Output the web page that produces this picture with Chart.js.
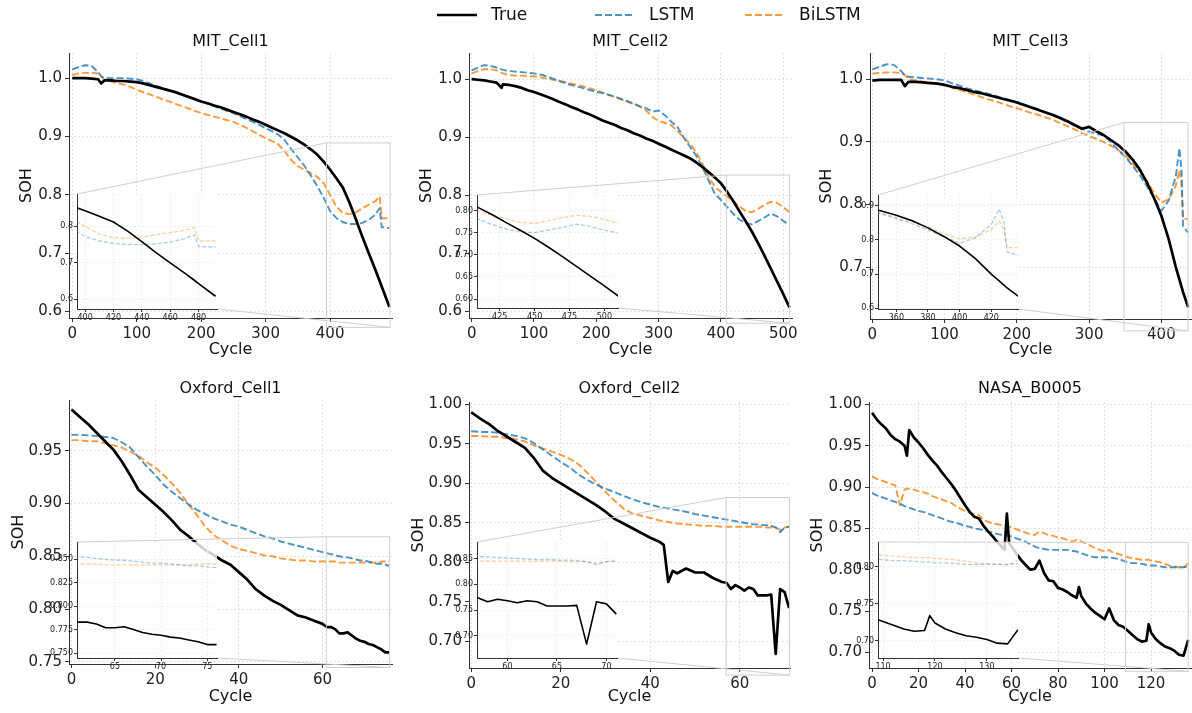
<!DOCTYPE html>
<html>
<head>
<meta charset="utf-8">
<script src="https://cdn.jsdelivr.net/npm/chart.js@4.4.1/dist/chart.umd.min.js"></script>
<style>
  html, body { margin: 0; padding: 0; background: #fff; }
  #fig { position: relative; width: 1192px; height: 713px; overflow: hidden; }
  #fig canvas { position: absolute; left: 0; top: 0; }
</style>
</head>
<body>
<div id="fig"></div>
<script>
// ---- data ----
const seriesNames = ["True", "LSTM", "BiLSTM"];
const panelTitles = ["MIT_Cell1", "MIT_Cell2", "MIT_Cell3", "Oxford_Cell1", "Oxford_Cell2", "NASA_B0005"];

const mit1Cycles = [0, 10, 20, 30, 40, 45, 50, 60, 70, 80, 90, 100, 110, 120, 130, 140, 150, 160, 170, 180, 190,
  200, 210, 220, 230, 240, 250, 260, 270, 280, 290, 300, 310, 320, 330, 340, 350, 360, 370, 380, 390,
  400, 410, 420, 430, 440, 450, 460, 470, 477, 480, 492];
const mit1True = [1.000, 1.000, 1.000, 0.999, 0.998, 0.991,
  0.996, 0.996, 0.995, 0.995, 0.994, 0.993, 0.991, 0.988, 0.985, 0.982, 0.979, 0.976, 0.972, 0.968, 0.964,
  0.960, 0.957, 0.953, 0.950, 0.946, 0.942, 0.938, 0.934, 0.929, 0.925, 0.920, 0.915, 0.910, 0.905, 0.899,
  0.893, 0.886, 0.878, 0.869, 0.857, 0.843, 0.828, 0.812, 0.787, 0.758, 0.728, 0.700, 0.672,
  0.652, 0.643, 0.608];
const mit1Lstm = [1.015, 1.019, 1.022, 1.021, 1.010, 1.003,
  1.000, 1.000, 1.000, 1.000, 0.999, 0.998, 0.995, 0.991, 0.987, 0.983, 0.979, 0.975, 0.971, 0.967, 0.964,
  0.960, 0.956, 0.952, 0.948, 0.944, 0.940, 0.935, 0.930, 0.925, 0.920, 0.914, 0.909, 0.903, 0.893, 0.878,
  0.864, 0.850, 0.833, 0.815, 0.795, 0.772, 0.760, 0.753, 0.750, 0.750, 0.752, 0.757, 0.766,
  0.777, 0.745, 0.743];
const mit1Bilstm = [1.005, 1.008, 1.009, 1.009, 1.008, 1.003,
  0.997, 0.994, 0.991, 0.989, 0.985, 0.980, 0.976, 0.972, 0.968, 0.964, 0.960, 0.956, 0.952, 0.948, 0.944,
  0.940, 0.937, 0.934, 0.931, 0.928, 0.925, 0.920, 0.915, 0.909, 0.903, 0.897, 0.892, 0.886, 0.874, 0.859,
  0.849, 0.843, 0.837, 0.831, 0.820, 0.800, 0.779, 0.769, 0.767, 0.770, 0.777, 0.783, 0.789,
  0.797, 0.760, 0.760];

const mit2Cycles = [0, 10, 20, 30, 40, 48, 50, 60, 70, 80, 90, 100, 110, 120, 130, 140, 150, 160, 170, 180, 190,
  200, 210, 220, 230, 240, 250, 260, 270, 280, 290, 300, 310, 320, 330, 340, 350, 360, 370, 380, 390,
  400, 410, 420, 430, 440, 450, 460, 470, 480, 490, 500, 510];
const mit2True = [1.000, 0.999, 0.998, 0.996, 0.994, 0.985,
  0.991, 0.990, 0.988, 0.985, 0.981,
  0.978, 0.974, 0.970, 0.966, 0.961, 0.957, 0.952, 0.948, 0.943, 0.939,
  0.934, 0.929, 0.925, 0.921, 0.916, 0.912, 0.907, 0.903, 0.898, 0.894,
  0.889, 0.884, 0.879, 0.874, 0.869, 0.864, 0.857, 0.849, 0.840, 0.831,
  0.821, 0.806, 0.790, 0.772, 0.755, 0.737, 0.717, 0.696, 0.674, 0.652,
  0.630, 0.607];
const mit2Lstm = [1.015, 1.020, 1.024, 1.023, 1.020, 1.017,
  1.016, 1.014, 1.013, 1.012, 1.011,
  1.010, 1.008, 1.005, 1.001, 0.997, 0.993, 0.990, 0.987, 0.984, 0.981,
  0.978, 0.976, 0.973, 0.970, 0.966, 0.962, 0.958, 0.953, 0.950, 0.944,
  0.946, 0.938, 0.927, 0.918, 0.900, 0.884, 0.869, 0.849, 0.826, 0.803,
  0.792, 0.780, 0.768, 0.758, 0.752, 0.750, 0.756, 0.762, 0.769, 0.764,
  0.756, 0.749];
const mit2Bilstm = [1.010, 1.014, 1.017, 1.017, 1.015, 1.011,
  1.010, 1.007, 1.006, 1.006, 1.005,
  1.005, 1.003, 1.001, 0.999, 0.997, 0.995, 0.992, 0.990, 0.987, 0.984,
  0.981, 0.977, 0.973, 0.969, 0.965, 0.961, 0.957, 0.953, 0.946, 0.935,
  0.928, 0.925, 0.921, 0.911, 0.900, 0.889, 0.875, 0.855, 0.832, 0.815,
  0.806, 0.798, 0.789, 0.781, 0.773, 0.771, 0.777, 0.784, 0.789, 0.787,
  0.780, 0.771];

const mit3Cycles = [0, 10, 20, 30, 40, 45, 50, 60, 70, 80, 90, 100, 110, 120, 130, 140, 150, 160, 170, 180, 190,
  200, 210, 220, 230, 240, 250, 260, 270, 280, 290, 300, 310, 320, 330, 340, 350, 360, 370, 380, 390,
  400, 410, 420, 425, 428, 430, 437];
const mit3True = [0.998, 0.999, 0.999, 0.999, 0.999, 0.989,
  0.996, 0.996, 0.995, 0.994, 0.993,
  0.991, 0.988, 0.986, 0.983, 0.980, 0.978, 0.975, 0.972, 0.969, 0.966,
  0.963, 0.959, 0.955, 0.951, 0.947, 0.943, 0.938, 0.933, 0.927, 0.921,
  0.924, 0.917, 0.911, 0.903, 0.895, 0.885, 0.872, 0.856, 0.835, 0.810,
  0.782, 0.745, 0.700, 0.680, 0.668, 0.660, 0.636];
const mit3Lstm = [1.016, 1.020, 1.024, 1.023, 1.013, 1.006,
  1.004, 1.003, 1.002, 1.001, 1.000,
  0.998, 0.994, 0.990, 0.986, 0.983, 0.980, 0.977, 0.974, 0.970, 0.967,
  0.964, 0.960, 0.956, 0.952, 0.947, 0.943, 0.937, 0.932, 0.926, 0.921,
  0.916, 0.913, 0.910, 0.900, 0.887, 0.876, 0.862, 0.847, 0.829, 0.810,
  0.790, 0.806, 0.845, 0.890, 0.852, 0.765, 0.755];
const mit3Bilstm = [1.009, 1.010, 1.011, 1.011, 1.010, 1.007,
  1.000, 0.998, 0.996, 0.995, 0.993,
  0.991, 0.987, 0.983, 0.980, 0.976, 0.972, 0.968, 0.965, 0.961, 0.957,
  0.954, 0.950, 0.946, 0.943, 0.939, 0.935, 0.930, 0.925, 0.920, 0.914,
  0.909, 0.905, 0.900, 0.894, 0.887, 0.879, 0.865, 0.853, 0.838, 0.818,
  0.803, 0.808, 0.830, 0.855, 0.830, 0.777, 0.777];

const ox1Cycles = [0, 2, 4, 6, 8, 10, 12, 14, 16, 18, 20, 22, 24, 26, 28, 30, 32, 34, 36, 38, 40,
  42, 44, 46, 48, 50, 52, 54, 56, 58, 60,
  61, 62, 63, 64, 65, 66, 67, 68, 69, 70, 71, 72, 73, 74, 75, 76];
const ox1True = [0.989, 0.982, 0.975, 0.967, 0.959, 0.951, 0.940, 0.927, 0.913, 0.906, 0.899,
  0.892, 0.884, 0.875, 0.869, 0.862, 0.856, 0.851, 0.846, 0.842, 0.835,
  0.828, 0.819, 0.813, 0.808, 0.804, 0.799, 0.794, 0.792, 0.789, 0.786,
  0.783, 0.783, 0.781, 0.777, 0.777, 0.778, 0.775, 0.772, 0.770, 0.769, 0.767, 0.766, 0.764, 0.762, 0.759, 0.759];
const ox1Lstm = [0.965, 0.965, 0.9645, 0.964, 0.963, 0.962, 0.958, 0.953, 0.944, 0.935, 0.927,
  0.918, 0.911, 0.905, 0.899, 0.894, 0.890, 0.886, 0.883, 0.880, 0.878,
  0.875, 0.872, 0.869, 0.867, 0.864, 0.862, 0.860, 0.858, 0.856, 0.854,
  0.853, 0.852, 0.851, 0.850, 0.849, 0.849, 0.848, 0.847, 0.846, 0.846, 0.845, 0.844, 0.843, 0.843, 0.842, 0.841];
const ox1Bilstm = [0.960, 0.960, 0.959, 0.959, 0.957, 0.955, 0.953, 0.949, 0.945, 0.939, 0.934,
  0.927, 0.919, 0.910, 0.899, 0.889, 0.878, 0.870, 0.865, 0.860, 0.857,
  0.855, 0.853, 0.851, 0.850, 0.848, 0.847, 0.846, 0.846, 0.845, 0.845,
  0.845, 0.845, 0.845, 0.844, 0.844, 0.844, 0.844, 0.844, 0.844, 0.844, 0.844, 0.844, 0.844, 0.845, 0.845, 0.845];

const ox2Cycles = [0, 2, 4, 6, 8, 10, 12, 14, 16, 18, 20, 22, 24, 26, 28, 30, 32, 34, 36, 38, 40, 42,
  43, 44, 45, 46, 48, 50, 52, 54, 56,
  57, 58, 59, 60, 61, 62, 63, 64, 65, 66, 67, 68, 69, 70, 71];
const ox2True = [0.990, 0.982, 0.975, 0.966, 0.959, 0.952, 0.945, 0.932, 0.916, 0.907, 0.900,
  0.893, 0.886, 0.879, 0.872, 0.864, 0.855, 0.849, 0.843, 0.837, 0.831, 0.826,
  0.822, 0.775, 0.789, 0.786, 0.792, 0.787, 0.787, 0.780, 0.775,
  0.774, 0.766, 0.771, 0.768, 0.764, 0.768, 0.766, 0.758, 0.758, 0.758, 0.759, 0.684, 0.766, 0.762, 0.742];
const ox2Lstm = [0.966, 0.965, 0.965, 0.964, 0.962, 0.960, 0.957, 0.951, 0.943, 0.935, 0.927,
  0.920, 0.911, 0.904, 0.898, 0.893, 0.889, 0.884, 0.880, 0.876, 0.873, 0.870,
  0.869, 0.868, 0.867, 0.866, 0.864, 0.861, 0.859, 0.857, 0.855,
  0.854, 0.853, 0.852, 0.851, 0.850, 0.849, 0.848, 0.848, 0.847, 0.847, 0.846, 0.844, 0.838, 0.844, 0.845];
const ox2Bilstm = [0.960, 0.960, 0.959, 0.959, 0.957, 0.956, 0.953, 0.948, 0.944, 0.940, 0.936,
  0.931, 0.924, 0.913, 0.901, 0.889, 0.878, 0.868, 0.862, 0.859, 0.856, 0.853,
  0.852, 0.851, 0.850, 0.849, 0.848, 0.847, 0.846, 0.846, 0.845,
  0.845, 0.845, 0.845, 0.845, 0.845, 0.845, 0.845, 0.845, 0.845, 0.844, 0.844, 0.844, 0.841, 0.844, 0.845];

const nasaCycles = [0, 2, 4, 6, 8, 10, 12, 14, 15,
  16, 18, 20, 22, 24, 26, 28, 30, 32, 34, 36, 38, 40, 42, 44, 46, 48, 50, 52, 54, 56,
  57, 58, 59,
  60, 62, 64, 66, 68, 70, 72, 74, 76, 78, 80, 82, 84, 86, 88, 89,
  90, 92, 94, 96, 98, 100, 102, 104, 106, 108, 110, 112, 114, 116, 118, 119,
  120, 122, 124, 126, 128, 130, 132, 134, 136];
const nasaTrue = [0.990, 0.982, 0.976, 0.971, 0.963, 0.958, 0.955, 0.950, 0.938,
  0.969, 0.960, 0.954, 0.947, 0.939, 0.932, 0.926, 0.918, 0.911, 0.904, 0.896, 0.887, 0.878, 0.870, 0.864, 0.862, 0.853, 0.846, 0.840, 0.833, 0.827,
  0.824, 0.868, 0.832,
  0.828, 0.820, 0.812, 0.806, 0.800, 0.801, 0.811, 0.796, 0.787, 0.786, 0.778, 0.776, 0.773, 0.769, 0.766, 0.779,
  0.768, 0.759, 0.753, 0.748, 0.744, 0.740, 0.753, 0.739, 0.733, 0.731, 0.726, 0.721, 0.716, 0.713, 0.714, 0.734,
  0.724, 0.716, 0.711, 0.707, 0.705, 0.702, 0.697, 0.696, 0.715];
const nasaLstm = [0.893, 0.890, 0.888, 0.886, 0.884, 0.882, 0.880, 0.877, 0.876,
  0.875, 0.873, 0.871, 0.870, 0.868, 0.866, 0.864, 0.862, 0.860, 0.858, 0.857, 0.855, 0.853, 0.852, 0.850, 0.849, 0.848, 0.846, 0.845, 0.843, 0.842,
  0.842, 0.841, 0.841,
  0.840, 0.838, 0.836, 0.834, 0.831, 0.828, 0.826, 0.825, 0.824, 0.824, 0.824, 0.824, 0.824, 0.823, 0.822, 0.821,
  0.820, 0.818, 0.816, 0.815, 0.815, 0.815, 0.815, 0.814, 0.813, 0.811, 0.809, 0.808, 0.808, 0.807, 0.806, 0.806,
  0.805, 0.805, 0.804, 0.803, 0.803, 0.803, 0.803, 0.803, 0.804];
const nasaBilstm = [0.913, 0.910, 0.908, 0.906, 0.904, 0.902, 0.878, 0.897, 0.898,
  0.898, 0.897, 0.895, 0.894, 0.892, 0.889, 0.887, 0.885, 0.883, 0.881, 0.877, 0.874, 0.871, 0.869, 0.867, 0.866, 0.860, 0.858, 0.856, 0.855, 0.854,
  0.854, 0.853, 0.852,
  0.851, 0.849, 0.847, 0.845, 0.843, 0.842, 0.846, 0.844, 0.842, 0.841, 0.839, 0.838, 0.836, 0.834, 0.836, 0.836,
  0.834, 0.832, 0.829, 0.826, 0.824, 0.822, 0.824, 0.820, 0.819, 0.817, 0.815, 0.814, 0.813, 0.812, 0.812, 0.812,
  0.811, 0.810, 0.809, 0.807, 0.805, 0.804, 0.803, 0.802, 0.808];

// tick labels
const mitYTicks = [0.6, 0.7, 0.8, 0.9, 1.0];
const mit1XTicks = [0, 100, 200, 300, 400];
const mit2XTicks = [0, 100, 200, 300, 400, 500];
const mit3XTicks = [0, 100, 200, 300, 400];
const ox1YTicks = [0.75, 0.80, 0.85, 0.90, 0.95];
const ox2YTicks = [0.70, 0.75, 0.80, 0.85, 0.90, 0.95, 1.00];
const nasaYTicks = [0.70, 0.75, 0.80, 0.85, 0.90, 0.95, 1.00];
const oxXTicks = [0, 20, 40, 60];
const nasaXTicks = [0, 20, 40, 60, 80, 100, 120];

const mit1InsetXTicks = [400, 420, 440, 460, 480];
const mit1InsetYTicks = [0.6, 0.7, 0.8];
const mit2InsetXTicks = [425, 450, 475, 500];
const mit2InsetYTicks = [0.60, 0.65, 0.70, 0.75, 0.80];
const mit3InsetXTicks = [360, 380, 400, 420];
const mit3InsetYTicks = [0.6, 0.7, 0.8, 0.9];
const ox1InsetXTicks = [65, 70, 75];
const ox1InsetYTicks = [0.750, 0.775, 0.800, 0.825, 0.850];
const ox2InsetXTicks = [60, 65, 70];
const ox2InsetYTicks = [0.70, 0.75, 0.80, 0.85];
const nasaInsetXTicks = [110, 120, 130];
const nasaInsetYTicks = [0.70, 0.75, 0.80];

// ---- layout / styles ----
const W = 1192, H = 713;
const FONT = "'DejaVu Sans', sans-serif";
const BLUE = "rgba(31,119,180,0.8)";
const ORANGE = "rgba(255,127,14,0.8)";
const BLUE_FADED = "rgba(31,119,180,0.38)";
const ORANGE_FADED = "rgba(255,127,14,0.38)";
const LABEL_OFF = 10; // half of 16px title line + 2px padding

const panels = [
  { title: panelTitles[0], cycles: mit1Cycles, truth: mit1True, lstm: mit1Lstm, bilstm: mit1Bilstm,
    area: { l: 69, t: 53, r: 392, b: 318 }, titleY: 46, yLabelX: 27, xLabelY: 350,
    x: [-5, 496], y: [0.589, 1.043], xTicks: mit1XTicks, yTicks: mitYTicks, yDec: 1,
    inset: { area: { l: 77, t: 194, r: 217, b: 309 }, x: [394.3, 493], y: [0.573, 0.889],
      xTicks: mit1InsetXTicks, yTicks: mit1InsetYTicks, yDec: 1 } },
  { title: panelTitles[1], cycles: mit2Cycles, truth: mit2True, lstm: mit2Lstm, bilstm: mit2Bilstm,
    area: { l: 469, t: 53, r: 792, b: 318 }, titleY: 46, yLabelX: 427, xLabelY: 350,
    x: [-4.3, 514], y: [0.589, 1.045], xTicks: mit2XTicks, yTicks: mitYTicks, yDec: 1,
    inset: { area: { l: 477, t: 195, r: 618, b: 308 }, x: [408.7, 509.8], y: [0.58, 0.835],
      xTicks: mit2InsetXTicks, yTicks: mit2InsetYTicks, yDec: 2 } },
  { title: panelTitles[2], cycles: mit3Cycles, truth: mit3True, lstm: mit3Lstm, bilstm: mit3Bilstm,
    area: { l: 870, t: 53, r: 1191, b: 319 }, titleY: 46, yLabelX: 827, xLabelY: 350,
    x: [-3.2, 441], y: [0.617, 1.042], xTicks: mit3XTicks, yTicks: mitYTicks, yDec: 1,
    inset: { area: { l: 878, t: 195, r: 1018, b: 309 }, x: [348.4, 436.9], y: [0.598, 0.931],
      xTicks: mit3InsetXTicks, yTicks: mit3InsetYTicks, yDec: 1 } },
  { title: panelTitles[3], cycles: ox1Cycles, truth: ox1True, lstm: ox1Lstm, bilstm: ox1Bilstm,
    area: { l: 69, t: 400, r: 392, b: 664 }, titleY: 393, yLabelX: 19, xLabelY: 697,
    x: [-0.6, 76.6], y: [0.748, 0.998], xTicks: oxXTicks, yTicks: ox1YTicks, yDec: 2,
    inset: { area: { l: 77, t: 542, r: 217, b: 658 }, x: [60.9, 76.05], y: [0.7447, 0.8685],
      xTicks: ox1InsetXTicks, yTicks: ox1InsetYTicks, yDec: 3 } },
  { title: panelTitles[4], cycles: ox2Cycles, truth: ox2True, lstm: ox2Lstm, bilstm: ox2Bilstm,
    area: { l: 469, t: 402, r: 790, b: 668 }, titleY: 393, yLabelX: 419, xLabelY: 697,
    x: [-0.5, 71.2], y: [0.666, 1.003], xTicks: oxXTicks, yTicks: ox2YTicks, yDec: 2,
    inset: { area: { l: 477, t: 542, r: 617, b: 658 }, x: [56.93, 71.07], y: [0.657, 0.882],
      xTicks: ox2InsetXTicks, yTicks: ox2InsetYTicks, yDec: 2 } },
  { title: panelTitles[5], cycles: nasaCycles, truth: nasaTrue, lstm: nasaLstm, bilstm: nasaBilstm,
    area: { l: 869, t: 402, r: 1191, b: 668 }, titleY: 393, yLabelX: 818, xLabelY: 697,
    x: [-1.3, 137.2], y: [0.681, 1.003], xTicks: nasaXTicks, yTicks: nasaYTicks, yDec: 2,
    inset: { area: { l: 878, t: 542, r: 1018, b: 658 }, x: [109.03, 136], y: [0.677, 0.833],
      xTicks: nasaInsetXTicks, yTicks: nasaInsetYTicks, yDec: 2 } },
];

// legend handle starts (px) along the top
const legendX = [437, 595, 745];
const legendY = 15;

function makeCanvas() {
  const c = document.createElement("canvas");
  c.width = W;
  c.height = H;
  document.getElementById("fig").appendChild(c);
  return c.getContext("2d");
}

function lineSet(label, xs, ys, style) {
  return Object.assign({
    label,
    data: xs.map((x, i) => ({ x, y: ys[i] })),
    pointRadius: 0,
    tension: 0,
    fill: false,
    borderJoinStyle: "round",
  }, style);
}

// only keep the listed ticks that fall inside the axis range
const fixedTicks = (values) => (scale) => {
  const eps = 1e-9;
  scale.ticks = values
    .filter((v) => v >= scale.min - eps && v <= scale.max + eps)
    .map((v) => ({ value: v }));
};

function axis(range, ticks, fmt, o) {
  return {
    type: "linear",
    min: range[0],
    max: range[1],
    afterBuildTicks: fixedTicks(ticks),
    afterFit: o.fit,
    ticks: { autoSkip: false, maxRotation: 0, padding: o.pad, color: "#222",
      font: { family: FONT, size: o.size }, callback: fmt },
    grid: { color: o.grid, tickColor: "#333", tickLength: o.tick, tickWidth: 1 },
    border: { color: "#333", width: 1, dash: [2, 2] },
    title: o.title
      ? { display: true, text: o.title, color: "#111", font: { family: FONT, size: 16, lineHeight: 1 }, padding: 2 }
      : { display: false },
  };
}

// panel titles, drawn over the plot area
const panelTitle = {
  id: "panelTitle",
  afterDraw(chart, args, opts) {
    if (!opts.text) return;
    const { ctx, chartArea } = chart;
    ctx.save();
    ctx.font = `16px ${FONT}`;
    ctx.fillStyle = "#111";
    ctx.textAlign = "center";
    ctx.textBaseline = "alphabetic";
    ctx.fillText(opts.text, (chartArea.left + chartArea.right) / 2, opts.y);
    ctx.restore();
  },
};

// shared legend at the very top
const topLegend = {
  id: "topLegend",
  afterDraw(chart, args, opts) {
    if (!opts.show) return;
    const ctx = chart.ctx;
    ctx.save();
    ctx.font = `17px ${FONT}`;
    ctx.textBaseline = "middle";
    ctx.fillStyle = "#111";
    chart.data.datasets.forEach((ds, i) => {
      const x = legendX[i];
      ctx.beginPath();
      ctx.strokeStyle = ds.borderColor;
      ctx.lineWidth = i === 0 ? 2.6 : 2;
      ctx.setLineDash(ds.borderDash || []);
      ctx.moveTo(x, legendY);
      ctx.lineTo(x + 40, legendY);
      ctx.stroke();
      ctx.setLineDash([]);
      ctx.fillText(ds.label, x + 54, legendY + 1);
    });
    ctx.restore();
  },
};

function drawPanel(p, idx) {
  const a = p.area;
  const xBottom = p.xLabelY + LABEL_OFF;
  const yLeft = p.yLabelX - LABEL_OFF;
  return new Chart(makeCanvas(), {
    type: "line",
    data: {
      datasets: [
        lineSet(seriesNames[0], p.cycles, p.truth, { borderColor: "#000", borderWidth: 2.7 }),
        lineSet(seriesNames[1], p.cycles, p.lstm, { borderColor: BLUE, borderWidth: 1.9, borderDash: [7, 3] }),
        lineSet(seriesNames[2], p.cycles, p.bilstm, { borderColor: ORANGE, borderWidth: 1.9, borderDash: [7, 3] }),
      ],
    },
    options: {
      responsive: false,
      animation: false,
      devicePixelRatio: 1,
      events: [],
      layout: { autoPadding: false, padding: { left: yLeft, top: a.t, right: W - a.r, bottom: H - xBottom } },
      plugins: {
        legend: { display: false },
        tooltip: { enabled: false },
        panelTitle: { text: p.title, y: p.titleY },
        topLegend: { show: idx === 0 },
      },
      scales: {
        x: axis(p.x, p.xTicks, (v) => String(v), {
          fit: (s) => { s.height = xBottom - a.b; }, pad: 3, size: 15, grid: "#e2e2e2", tick: 4, title: "Cycle" }),
        y: axis(p.y, p.yTicks, (v) => v.toFixed(p.yDec), {
          fit: (s) => { s.width = a.l - yLeft; }, pad: 3, size: 15, grid: "#e2e2e2", tick: 4, title: "SOH" }),
      },
    },
    plugins: [panelTitle, topLegend],
  });
}

// inset background, zoom box in the parent axes and the two connector lines
function zoomMark(main) {
  return {
    id: "zoomMark",
    beforeDraw(chart) {
      const { ctx, chartArea: a, scales } = chart;
      const mx = main.scales.x, my = main.scales.y;
      const rl = mx.getPixelForValue(scales.x.min), rr = mx.getPixelForValue(scales.x.max);
      const rt = my.getPixelForValue(scales.y.max), rb = my.getPixelForValue(scales.y.min);
      ctx.save();
      ctx.fillStyle = "rgba(255,255,255,0.8)";
      ctx.fillRect(a.left, a.top, a.right - a.left, a.bottom - a.top);
      ctx.strokeStyle = "#cfcfcf";
      ctx.lineWidth = 1;
      ctx.strokeRect(rl, rt, rr - rl, rb - rt);
      ctx.beginPath();
      ctx.moveTo(a.left, a.top);
      ctx.lineTo(rl, rt);
      ctx.moveTo(a.right, a.bottom);
      ctx.lineTo(rr, rb);
      ctx.stroke();
      ctx.restore();
    },
  };
}

function drawInset(p, main) {
  const z = p.inset, a = z.area;
  const yW = 30, xH = 14;
  return new Chart(makeCanvas(), {
    type: "line",
    data: {
      datasets: [
        lineSet(seriesNames[0], p.cycles, p.truth, { borderColor: "#000", borderWidth: 1.6 }),
        lineSet(seriesNames[1], p.cycles, p.lstm, { borderColor: BLUE_FADED, borderWidth: 1.3, borderDash: [4, 2] }),
        lineSet(seriesNames[2], p.cycles, p.bilstm, { borderColor: ORANGE_FADED, borderWidth: 1.3, borderDash: [4, 2] }),
      ],
    },
    options: {
      responsive: false,
      animation: false,
      devicePixelRatio: 1,
      events: [],
      layout: { autoPadding: false, padding: { left: a.l - yW, top: a.t, right: W - a.r, bottom: H - (a.b + xH) } },
      plugins: { legend: { display: false }, tooltip: { enabled: false } },
      scales: {
        x: axis(z.x, z.xTicks, (v) => String(v), {
          fit: (s) => { s.height = xH; }, pad: 1, size: 8, grid: "#eeeeee", tick: 3 }),
        y: axis(z.y, z.yTicks, (v) => v.toFixed(z.yDec), {
          fit: (s) => { s.width = yW; }, pad: 1, size: 8, grid: "#eeeeee", tick: 3 }),
      },
    },
    plugins: [zoomMark(main)],
  });
}

const mains = panels.map((p, i) => drawPanel(p, i));
panels.forEach((p, i) => drawInset(p, mains[i]));
</script>
</body>
</html>
